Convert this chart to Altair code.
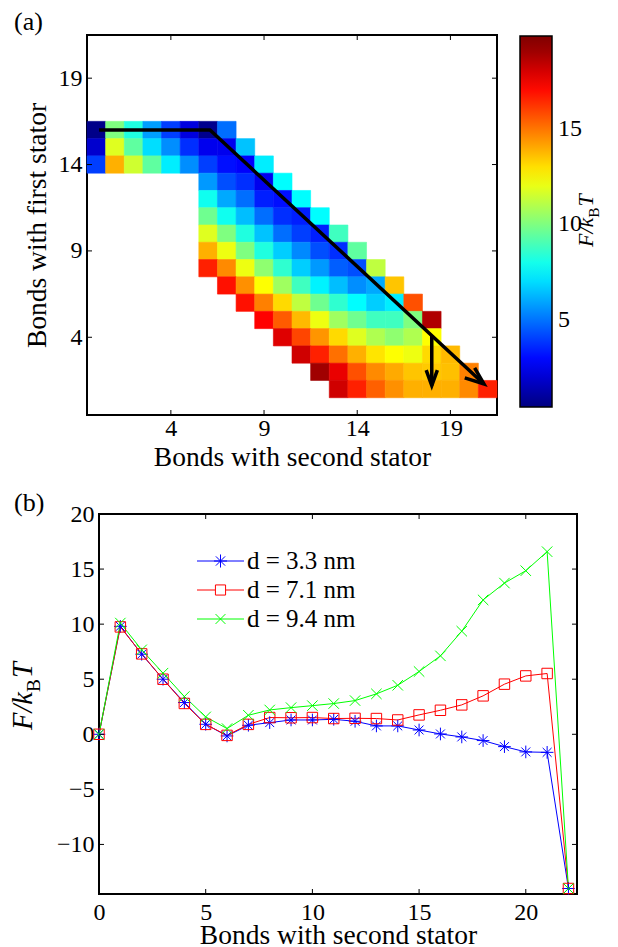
import altair as alt
import pandas as pd

FONT = "Liberation Serif"

# ---------------- (a) free-energy map ----------------
# one list per row of the map (row = bonds with first stator),
# starting at column rows_start (column = bonds with second stator)
rows_y = [16, 15, 14, 13, 12, 11, 10, 9, 8, 7, 6, 5, 4, 3, 2, 1]
rows_start = [0, 0, 0, 6, 6, 6, 6, 6, 6, 7, 8, 9, 10, 11, 12, 13]
r16 = [0.6, 10.0, 8.2, 5.8, 4.0, 2.2, 0.7, 4.9]
r15 = [1.9, 11.8, 9.4, 7.0, 5.5, 3.7, 2.5, 2.5, 6.5]
r14 = [4.0, 13.9, 11.5, 9.4, 7.3, 5.5, 4.0, 3.1, 2.8, 7.3]
r13 = [5.7, 4.3, 3.7, 2.5, 7.6]
r12 = [7.9, 6.0, 4.9, 3.4, 3.1, 7.6]
r11 = [9.7, 7.9, 6.4, 4.9, 3.7, 3.4, 7.6]
r10 = [11.8, 10.0, 8.2, 6.5, 4.9, 4.0, 3.4, 8.8]
r9 = [13.9, 12.1, 10.0, 8.2, 6.7, 5.4, 4.3, 3.7, 9.4]
r8 = [16.6, 14.6, 12.1, 10.3, 8.5, 6.7, 5.7, 4.6, 4.3, 11.2]
r7 = [16.9, 14.5, 12.4, 10.6, 8.8, 7.4, 6.4, 5.5, 6.0, 13.5]
r6 = [16.9, 14.8, 13.1, 11.2, 9.7, 8.5, 7.6, 6.7, 7.3, 15.7]
r5 = [17.2, 15.5, 13.7, 12.1, 10.6, 9.7, 8.8, 8.8, 10.0, 18.7]
r4 = [17.8, 15.9, 14.4, 13.1, 11.8, 10.9, 10.3, 10.9, 12.4]
r3 = [18.1, 16.6, 15.1, 13.9, 12.9, 12.4, 12.1, 13.1, 13.7]
r2 = [19.0, 17.6, 15.7, 14.6, 14.0, 13.5, 13.4, 13.6, 14.8]
r1 = [18.1, 16.6, 15.4, 14.5, 13.9, 13.9, 13.9, 14.6, 16.6]
rows_vals = [r16, r15, r14, r13, r12, r11, r10, r9, r8, r7, r6, r5, r4, r3, r2, r1]

heat_ticks = [4, 9, 14, 19]
cbar_ticks = [5, 10, 15]

# black path with arrows (data coordinates of the map)
path_seg = [0, 0, 0, 1, 1, 1, 2, 2, 3, 3, 3]
path_x = [0.15, 6.1, 20.8, 20.3, 20.8, 19.77, 18.0, 18.0, 17.7, 18.0, 18.3]
path_y = [16, 16, 1.3, 2.23, 1.3, 1.65, 4.1, 1.2, 2.1, 1.2, 2.1]

# jet colour map over the colour-bar range
cmap_dom = [0.43, 2.83, 7.62, 12.41, 17.2, 19.6, 19.85]
cmap_rng = ["#000080", "#0000ff", "#00ffff", "#ffff00", "#ff0000",
            "#800000", "#800000"]

# ---------------- (b) free-energy profiles ----------------
bonds = list(range(23))
F_33 = [0, 9.8, 7.27, 5.0, 2.88, 0.91, -0.15, 0.82, 1.06, 1.3, 1.3, 1.36,
        1.18, 0.76, 0.76, 0.39, 0.03, -0.24, -0.57, -1.12, -1.6, -1.64, -14.0]
F_71 = [0, 9.75, 7.3, 5.0, 2.8, 0.9, -0.1, 0.9, 1.52, 1.5, 1.52, 1.43,
        1.45, 1.43, 1.3, 1.76, 2.18, 2.67, 3.49, 4.55, 5.3, 5.52, -14.0]
F_94 = [0, 10.1, 7.67, 5.55, 3.43, 1.58, 0.52, 1.73, 2.21, 2.42, 2.6, 2.79,
        3.06, 3.67, 4.45, 5.7, 7.12, 9.36, 12.2, 13.73, 14.85, 16.58, -14.0]
series_names = ["d = 3.3 nm", "d = 7.1 nm", "d = 9.4 nm"]
series_colors = ["#0000ff", "#ff0000", "#00ff00"]
marker_paths = [
    "M-1.15,0L1.15,0M0,-1.15L0,1.15M-0.81,-0.81L0.81,0.81M-0.81,0.81L0.81,-0.81",
    "M-0.95,-0.95L0.95,-0.95L0.95,0.95L-0.95,0.95Z",
    "M-0.95,-0.95L0.95,0.95M-0.95,0.95L0.95,-0.95",
]
legend_paths = [
    "M-1.62,0L1.62,0M-0.45,0L0.45,0M0,-0.45L0,0.45M-0.32,-0.32L0.32,0.32M-0.32,0.32L0.32,-0.32",
    "M-1.62,0L-0.35,0M0.35,0L1.62,0M-0.35,-0.35L0.35,-0.35L0.35,0.35L-0.35,0.35Z",
    "M-1.62,0L1.62,0M-0.34,-0.34L0.34,0.34M-0.34,0.34L0.34,-0.34",
]
prof_xticks = [0, 5, 10, 15, 20]
prof_yticks = [-10, -5, 0, 5, 10, 15, 20]

# ---------------- tables ----------------
heat_rows = []
for yy, s, vals in zip(rows_y, rows_start, rows_vals):
    for k, v in enumerate(vals):
        heat_rows.append({"x": s + k, "y": yy, "F": v})
heat_df = pd.DataFrame(heat_rows)
path_df = pd.DataFrame({"seg": path_seg, "px": path_x, "py": path_y,
                        "k": list(range(len(path_x)))})
prof_df = pd.concat([
    pd.DataFrame({"x": bonds, "F": vals, "series": name})
    for name, vals in zip(series_names, [F_33, F_71, F_94])
], ignore_index=True)
one = pd.DataFrame({"a": [0]})

W1, H1 = 410, 380
W2, H2 = 478, 380
TICK = 5

# ---------------- chart (a) ----------------
xs = alt.Scale(domain=[-0.5, 21.5], nice=False, zero=False)
ys = alt.Scale(domain=[-0.5, 21.5], nice=False, zero=False)
cscale = alt.Scale(domain=cmap_dom, range=cmap_rng, interpolate="rgb",
                   zero=False, clamp=True)

rects = alt.Chart(heat_df).transform_calculate(
    x0="datum.x - 0.5", x1="datum.x + 0.5",
    y0="datum.y - 0.5", y1="datum.y + 0.5",
).mark_rect(strokeWidth=0.6).encode(
    x=alt.X("x0:Q", scale=xs,
            axis=alt.Axis(values=heat_ticks, title="Bonds with second stator",
                          labelPadding=1, titlePadding=3)),
    x2="x1:Q",
    y=alt.Y("y0:Q", scale=ys,
            axis=alt.Axis(values=heat_ticks, title="Bonds with first stator",
                          labelPadding=5, titlePadding=7)),
    y2="y1:Q",
    color=alt.Color("F:Q", scale=cscale, legend=alt.Legend(
        orient="none", legendX=433, legendY=1, direction="vertical",
        gradientLength=371, gradientThickness=32, values=cbar_ticks,
        title=None, labelFontSize=24, labelOffset=6, padding=0,
        gradientStrokeColor="black", gradientStrokeWidth=1.5)),
    stroke=alt.Stroke("F:Q", scale=cscale, legend=None),
)

arrows = alt.Chart(path_df).mark_line(
    color="black", strokeWidth=3.5, strokeJoin="miter", strokeCap="butt"
).encode(
    x=alt.X("px:Q", scale=xs, title="Bonds with second stator"),
    y=alt.Y("py:Q", scale=ys, title="Bonds with first stator"),
    detail="seg:N", order="k:Q",
)


def tick_layers(xticks, yticks, xsc, ysc, w, h, xt, yt):
    tx = pd.DataFrame({"t": xticks})
    ty = pd.DataFrame({"t": yticks})
    rule = dict(color="black", strokeWidth=1)
    ax = alt.X("t:Q", scale=xsc, title=xt)
    ay = alt.Y("t:Q", scale=ysc, title=yt)
    return [
        alt.Chart(tx).mark_rule(**rule).encode(x=ax, y=alt.value(h), y2=alt.value(h - TICK)),
        alt.Chart(tx).mark_rule(**rule).encode(x=ax, y=alt.value(0), y2=alt.value(TICK)),
        alt.Chart(ty).mark_rule(**rule).encode(y=ay, x=alt.value(0), x2=alt.value(TICK)),
        alt.Chart(ty).mark_rule(**rule).encode(y=ay, x=alt.value(w), x2=alt.value(w - TICK)),
    ]


def kbt_title(x, y, size, subk=0.7):
    # F/k_B T written as rotated text pieces
    w1 = 1.333 * size
    sub = subk * size
    w2 = 0.667 * sub
    return [
        alt.Chart(one).mark_text(text="F/k", font=FONT, fontStyle="italic", fontSize=size,
                                 angle=270, align="left", baseline="alphabetic",
                                 color="black").encode(x=alt.value(x), y=alt.value(y)),
        alt.Chart(one).mark_text(text="B", font=FONT, fontSize=sub, angle=270,
                                 align="left", baseline="alphabetic", dx=w1,
                                 dy=0.28 * size, color="black").encode(x=alt.value(x), y=alt.value(y)),
        alt.Chart(one).mark_text(text="T", font=FONT, fontStyle="italic", fontSize=size,
                                 angle=270, align="left", baseline="alphabetic",
                                 dx=w1 + w2 + 1, color="black").encode(x=alt.value(x), y=alt.value(y)),
    ]


label_a = alt.Chart(one).mark_text(text="(a)", font=FONT, fontSize=26, align="left",
                                   baseline="alphabetic", color="black").encode(
    x=alt.value(-73), y=alt.value(-5))

# white dot fixing the top-left corner of the drawing
anchor = alt.Chart(one).mark_point(size=1, color="white", filled=True, opacity=1).encode(
    x=alt.value(-77), y=alt.value(-25))

top = alt.layer(
    rects, arrows,
    *tick_layers(heat_ticks, heat_ticks, xs, ys, W1, H1,
                 "Bonds with second stator", "Bonds with first stator"),
    *kbt_title(506, 212, 22),
    label_a, anchor,
).properties(width=W1, height=H1)

# ---------------- chart (b) ----------------
lx = alt.Scale(domain=[0, 22.4], nice=False, zero=False)
ly = alt.Scale(domain=[-14.5, 20], nice=False, zero=False)
col = alt.Scale(domain=series_names, range=series_colors)

sym_shape = ("datum.value === '%s' ? '%s' : datum.value === '%s' ? '%s' : '%s'"
             % (series_names[0], legend_paths[0], series_names[1], legend_paths[1],
                legend_paths[2]))

xax = alt.X("x:Q", scale=lx, axis=alt.Axis(values=prof_xticks, title="Bonds with second stator",
                                           labelPadding=6, titlePadding=-3))
yax = alt.Y("F:Q", scale=ly, axis=alt.Axis(values=prof_yticks, title=None, labelPadding=5))

leg = alt.Legend(
    orient="none", legendX=118.5, legendY=32, title=None, padding=0,
    symbolSize=841, symbolStrokeWidth=1, labelOffset=11.5, rowPadding=1,
    labelFontSize=25, labelLimit=0, symbolFillColor="transparent",
    symbolType={"expr": sym_shape}, symbolOpacity=1,
)

lines = alt.Chart(prof_df).mark_line(strokeWidth=1).encode(
    x=xax, y=yax,
    color=alt.Color("series:N", scale=col, legend=leg),
)
points = alt.Chart(prof_df).mark_point(filled=False, strokeWidth=1, size=121, opacity=1).encode(
    x=xax, y=yax,
    color=alt.Color("series:N", scale=col, legend=leg),
    shape=alt.Shape("series:N", scale=alt.Scale(domain=series_names, range=marker_paths),
                    legend=None),
)

label_b = alt.Chart(one).mark_text(text="(b)", font=FONT, fontSize=26, align="left",
                                   baseline="alphabetic", color="black").encode(
    x=alt.value(-85), y=alt.value(-3))

bottom = alt.layer(
    lines, points,
    *tick_layers(prof_xticks, prof_yticks, lx, ly, W2, H2, "Bonds with second stator", None),
    *kbt_title(-67, 216, 28.5, 0.68),
    label_b,
).properties(width=W2, height=H2)

spacer = alt.Chart(one).mark_point(opacity=0).encode(
    x=alt.value(0), y=alt.value(0)
).properties(width=12, height=H2, view=alt.ViewBackground(stroke="transparent"))

chart = alt.vconcat(
    top,
    alt.hconcat(spacer, bottom, spacing=0, bounds="flush"),
    spacing=99, bounds="flush",
).properties(
    padding={"left": 0, "top": 0, "right": 0, "bottom": 0}
).configure_view(
    stroke="black", strokeWidth=2
).configure_axis(
    labelFont=FONT, labelFontSize=24, labelColor="black", labelFlush=False,
    titleFont=FONT, titleFontSize=27.5, titleFontWeight="normal", titleColor="black",
    grid=False, ticks=False, domain=False,
).configure_legend(
    labelFont=FONT, labelColor="black",
)

chart.save("out.html", embed_options={"renderer": "svg", "actions": False})
